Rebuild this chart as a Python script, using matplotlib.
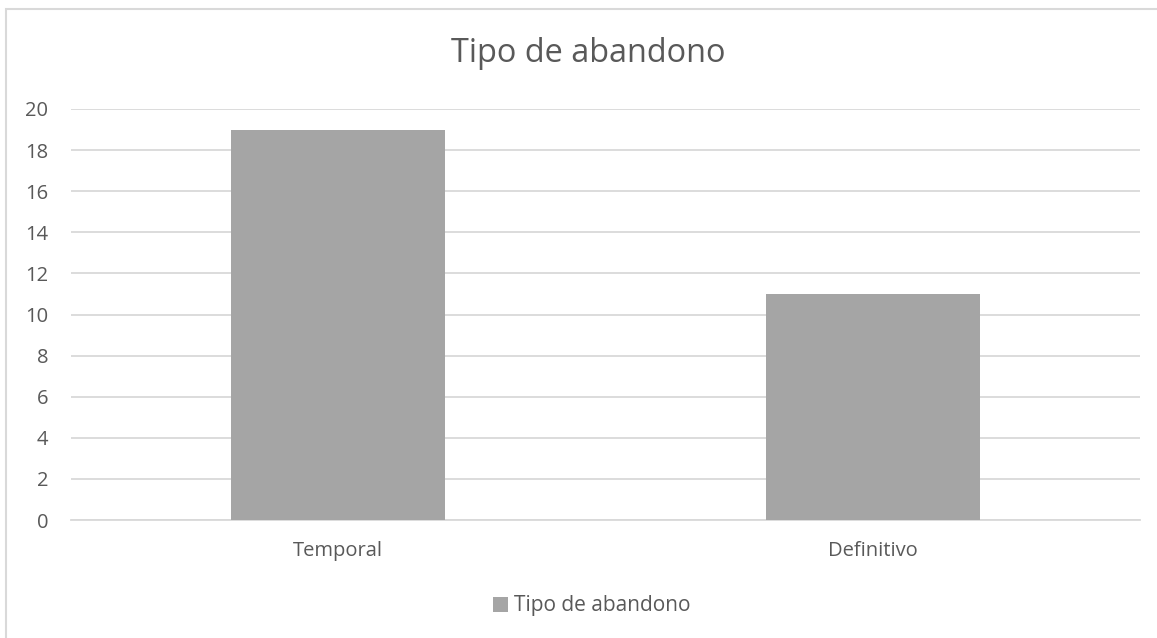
import matplotlib.pyplot as plt
from matplotlib.patches import Rectangle

plt.rcParams['font.family'] = ['Open Sans', 'DejaVu Sans']

# data
categories = ['Temporal', 'Definitivo']
values = [19, 11]
series_name = 'Tipo de abandono'

text_col = '#595959'
bar_col = '#a5a5a5'
grid_col = '#d9d9d9'

fig = plt.figure(figsize=(11.57, 6.38), dpi=100)
ax = fig.add_axes([71 / 1157, 1 - 520 / 638, (1140 - 71) / 1157, (520 - 109) / 638])

x = range(len(categories))
ax.bar(x, values, width=0.4, color=bar_col, label=series_name, zorder=3)

ax.set_xlim(-0.5, len(categories) - 0.5)
ax.set_ylim(0, 20)
ax.set_yticks(range(0, 21, 2))
ax.set_xticks(list(x))
ax.set_xticklabels(categories)
ax.grid(axis='y', color=grid_col, linewidth=1.3, zorder=0)
for s in ['top', 'right', 'left']:
    ax.spines[s].set_visible(False)
ax.spines['bottom'].set_color(grid_col)
ax.spines['bottom'].set_linewidth(1.3)
ax.tick_params(axis='both', length=0, colors=text_col, labelsize=14.5)
ax.tick_params(axis='y', pad=16.5)
ax.tick_params(axis='x', pad=15)

fig.text(588 / 1157, 1 - 53 / 638, 'Tipo de abandono', ha='center', va='center',
         fontsize=23.4, color=text_col)

fig.legend(loc='center', bbox_to_anchor=(592 / 1157, 1 - 606 / 638), frameon=False,
           fontsize=15, labelcolor=text_col, handlelength=0.7, handleheight=0.7,
           handletextpad=0.3)

# chart border
fig.patches.append(Rectangle((6 / 1157, -0.1), 1.2, 1 - 9 / 638 + 0.1,
                             transform=fig.transFigure, fill=False,
                             edgecolor='#d9d9d9', linewidth=1.5))

fig.savefig('out.png', dpi=100)
